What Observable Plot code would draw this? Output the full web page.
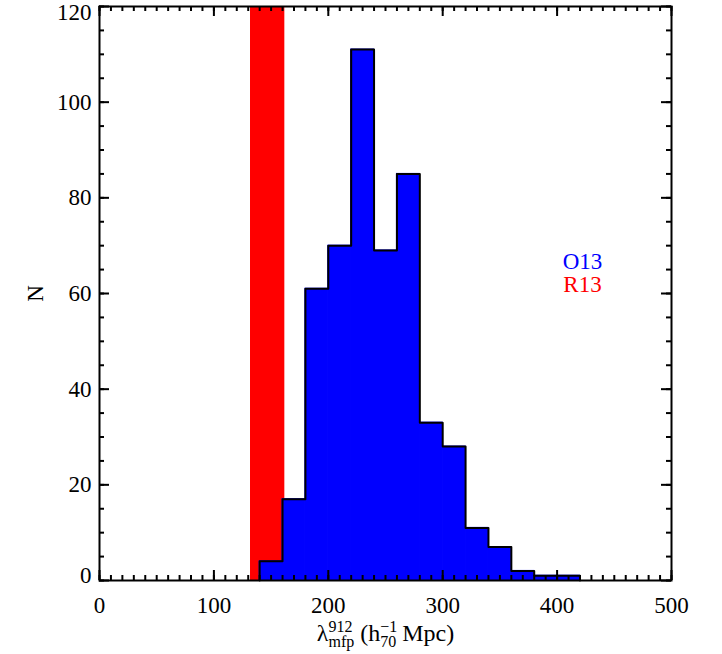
<!DOCTYPE html>
<html>
<head>
<meta charset="utf-8">
<script src="https://cdn.jsdelivr.net/npm/d3@7"></script>
<script src="https://cdn.jsdelivr.net/npm/@observablehq/plot@0.6"></script>
<style>
  html, body { margin: 0; padding: 0; background: #fff; }
  #chart svg { display: block; }
</style>
</head>
<body>
<div id="chart"></div>
<script>
// ---- data ----
const binLo   = [140, 160, 180, 200, 220, 240, 260, 280, 300, 320, 340, 360, 380, 400];
const binHi   = [160, 180, 200, 220, 240, 260, 280, 300, 320, 340, 360, 380, 400, 420];
const counts  = [4, 17, 61, 70, 111, 69, 85, 33, 28, 11, 7, 2, 1, 1];
const r13Center = 147;
const r13Err = 15;
const xTickLabels = [0, 100, 200, 300, 400, 500];
const yTickLabels = [0, 20, 40, 60, 80, 100, 120];
const legendNames = ["O13", "R13"];
const legendColors = ["blue", "red"];

const xMinor = d3.range(0, 501, 10);
const yMinor = d3.range(0, 121, 5);

const bins = binLo.map((lo, i) => ({lo, hi: binHi[i], n: counts[i]}));
const outline = [{x: binLo[0], y: 0}];
bins.forEach(b => { outline.push({x: b.lo, y: b.n}); outline.push({x: b.hi, y: b.n}); });
outline.push({x: binHi[binHi.length - 1], y: 0});

const W = 722, H = 654;
const M = {top: 6, right: 51, bottom: 74, left: 99};
const innerH = H - M.top - M.bottom;
const innerW = W - M.left - M.right;
const font = "Liberation Serif, Times New Roman, serif";
const tickStyle = {stroke: "black", strokeWidth: 2};

const plot = Plot.plot({
  width: W, height: H,
  marginTop: M.top, marginRight: M.right, marginBottom: M.bottom, marginLeft: M.left,
  style: {fontFamily: font, background: "white"},
  x: {domain: [0, 500], axis: null},
  y: {domain: [0, 120], axis: null},
  marks: [
    Plot.rect([{c: r13Center, e: r13Err}], {x1: d => d.c - d.e, x2: d => d.c + d.e, y1: 0, y2: 120, fill: "red"}),
    Plot.rectY(bins, {x1: "lo", x2: "hi", y: "n", fill: "blue", stroke: "blue", strokeWidth: 1, inset: 0}),
    Plot.line(outline, {x: "x", y: "y", stroke: "black", strokeWidth: 2}),
    // bottom ticks
    Plot.ruleX(xMinor, {x: d => d, insetTop: innerH - 5, ...tickStyle}),
    Plot.ruleX(xTickLabels, {x: d => d, insetTop: innerH - 10, ...tickStyle}),
    // top ticks
    Plot.ruleX(xMinor, {x: d => d, insetBottom: innerH - 5, ...tickStyle}),
    Plot.ruleX(xTickLabels, {x: d => d, insetBottom: innerH - 10, ...tickStyle}),
    // left ticks
    Plot.ruleY(yMinor, {y: d => d, insetRight: innerW - 5, ...tickStyle}),
    Plot.ruleY(yTickLabels, {y: d => d, insetRight: innerW - 10, ...tickStyle}),
    // right ticks
    Plot.ruleY(yMinor, {y: d => d, insetLeft: innerW - 5, ...tickStyle}),
    Plot.ruleY(yTickLabels, {y: d => d, insetLeft: innerW - 10, ...tickStyle}),
    Plot.frame({stroke: "black", strokeWidth: 2}),
    // tick labels
    Plot.text(xTickLabels, {x: d => d, frameAnchor: "bottom", lineAnchor: "middle", dy: 25, text: d => String(d), fontSize: 23, fill: "black"}),
    Plot.text(yTickLabels.filter(d => d !== 0 && d !== 120), {y: d => d, frameAnchor: "left", textAnchor: "end", dx: -8, text: d => String(d), fontSize: 23, fill: "black"}),
    Plot.text([0], {y: d => d, frameAnchor: "left", textAnchor: "end", lineAnchor: "bottom", dx: -8, dy: 2, text: d => String(d), fontSize: 23, fill: "black"}),
    Plot.text([120], {y: d => d, frameAnchor: "left", textAnchor: "end", lineAnchor: "top", dx: -8, dy: -3, text: d => String(d), fontSize: 23, fill: "black"}),
    // axis titles
    Plot.text(["N"], {frameAnchor: "left", textAnchor: "middle", lineAnchor: "middle", dx: -64, rotate: -90, text: d => d, fontSize: 23, fill: "black"}),
    Plot.text(["λ"], {frameAnchor: "bottom", textAnchor: "middle", lineAnchor: "middle", dy: 53, text: d => d, fontSize: 24, fill: "black", ariaDescription: "xlabel"}),
    // legend
    Plot.text([0], {frameAnchor: "top-right", textAnchor: "middle", lineAnchor: "middle", dx: -89, dy: 255, text: () => legendNames[0], fill: legendColors[0], fontSize: 23}),
    Plot.text([1], {frameAnchor: "top-right", textAnchor: "middle", lineAnchor: "middle", dx: -89, dy: 278, text: () => legendNames[1], fill: legendColors[1], fontSize: 23})
  ]
});

document.getElementById("chart").appendChild(plot);

// Build the x-axis title with stacked super/subscripts
let tnode = plot.querySelector('g[aria-description="xlabel"] text');
if (!tnode) {
  tnode = Array.from(plot.querySelectorAll("text")).find(e => e.textContent === "λ");
}
if (tnode) {
  const t = d3.select(tnode);
  t.text(null);
  const big = 24, small = 16;
  const add = (str, size, dy, dx) => {
    const s = t.append("tspan").attr("font-size", size).text(str);
    if (dy) s.attr("dy", dy);
    if (dx) s.attr("dx", dx);
    return s;
  };
  add("λ", big);
  const sup1 = add("912", small, -9);
  const w1 = sup1.node().getComputedTextLength();
  add("mfp", small, 15, -w1);
  add(" (h", big, -6);
  const sup2 = add("−1", small, -9);
  const w2 = sup2.node().getComputedTextLength();
  add("70", small, 15, -w2);
  add(" Mpc)", big, -6);
}
</script>
</body>
</html>
